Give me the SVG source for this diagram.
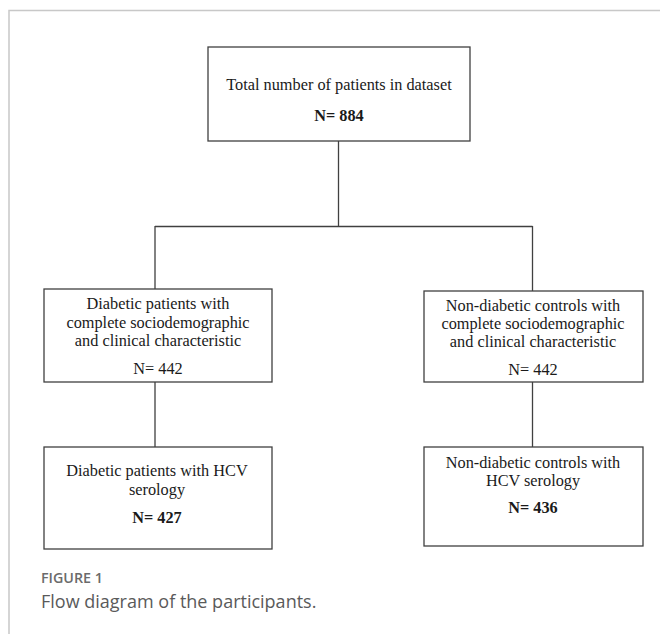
<svg xmlns="http://www.w3.org/2000/svg" width="660" height="634" viewBox="0 0 660 634">
<style>
.box{fill:#fff;stroke:#404040;stroke-width:1.3}
.t{font-family:"Liberation Serif","Times New Roman",serif;font-size:16.3px;fill:#1a1a1a;text-anchor:middle}
.b{font-weight:bold}
.c{fill:none;stroke:#404040;stroke-width:1.3}
</style>
<rect width="660" height="634" fill="#fff"/>
<path d="M9 634V10.5H660" fill="none" stroke="#c8c8c8" stroke-width="1.5"/>
<g id="connectors">
<path class="c" d="M338.5 141V226.5M155 226.5H532.5M155 226V289M532.5 226V291M155 382V447M532.5 382V447"/>
</g>
<g id="n-total">
<rect class="box" x="208" y="47" width="262" height="94"/>
<text class="t" x="339" y="90">Total number of patients in dataset</text>
<text class="t b" x="339" y="121">N= 884</text>
</g>
<g id="n-diab">
<rect class="box" x="44" y="289" width="228" height="93"/>
<text class="t" x="158" y="309">Diabetic patients with</text>
<text class="t" x="158" y="328">complete sociodemographic</text>
<text class="t" x="158" y="346">and clinical characteristic</text>
<text class="t" x="158" y="374">N= 442</text>
</g>
<g id="n-ctrl">
<rect class="box" x="424" y="291" width="219" height="91"/>
<text class="t" x="533" y="311">Non-diabetic controls with</text>
<text class="t" x="533" y="329">complete sociodemographic</text>
<text class="t" x="533" y="347">and clinical characteristic</text>
<text class="t" x="533" y="375">N= 442</text>
</g>
<g id="n-diab-hcv">
<rect class="box" x="44" y="447" width="228" height="102"/>
<text class="t" x="157" y="476">Diabetic patients with HCV</text>
<text class="t" x="157" y="495">serology</text>
<text class="t b" x="157" y="523">N= 427</text>
</g>
<g id="n-ctrl-hcv">
<rect class="box" x="424" y="447" width="219" height="99"/>
<text class="t" x="533" y="468">Non-diabetic controls with</text>
<text class="t" x="533" y="486">HCV serology</text>
<text class="t b" x="533" y="513">N= 436</text>
</g>
<g id="caption">
<text x="41" y="583" font-family="'Open Sans',sans-serif" font-size="14.3" font-weight="600" fill="#6b6b6b">FIGURE 1</text>
<text x="41" y="608" font-family="'Open Sans',sans-serif" font-size="18" fill="#5a5a5a">Flow diagram of the participants.</text>
</g>
</svg>
